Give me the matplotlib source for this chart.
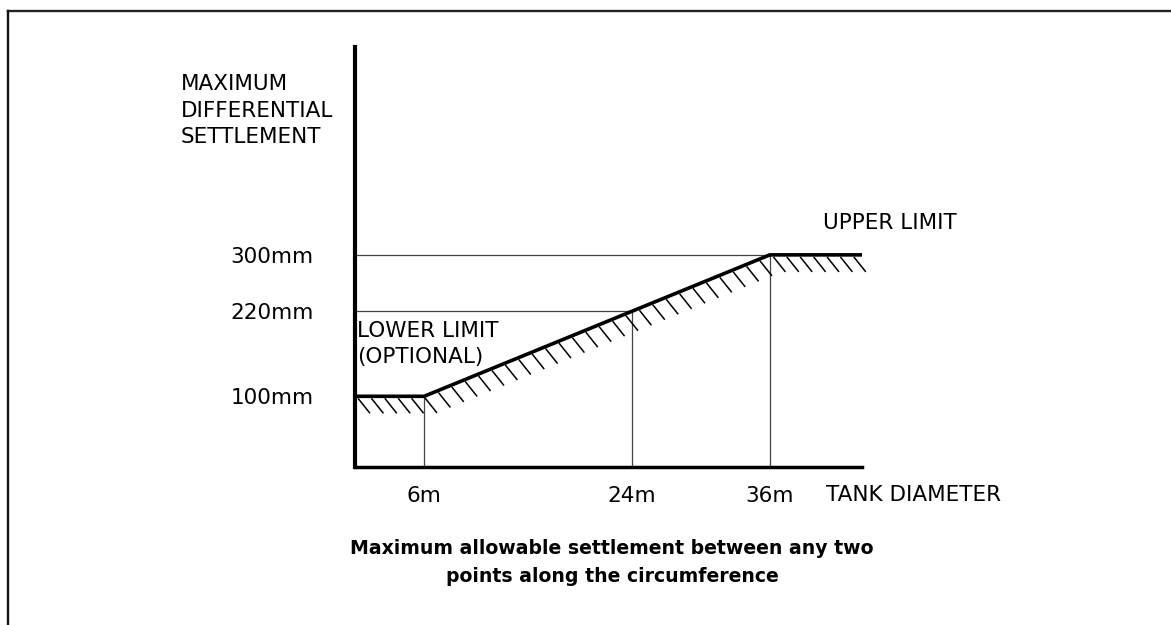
import numpy as np
import matplotlib
matplotlib.use('Agg')
import matplotlib.pyplot as plt
from matplotlib.collections import LineCollection
from matplotlib.lines import Line2D
from matplotlib.transforms import IdentityTransform


############## Data of the settlement limit curve. ##############
# Tank diameter (m) and maximum differential settlement (mm).
diameter = [0, 6, 24, 36, 44]
settlement = [100, 100, 220, 300, 300]

# Marked points of the curve.
tick_diameter = [6, 24, 36]
tick_diameter_labels = ['6m', '24m', '36m']
tick_settlement = [100, 220, 300]
tick_settlement_labels = ['100mm', '220mm', '300mm']
guide_diameter = [6, 24, 36]
guide_settlement_top = [100, 220, 300]
guide_settlement = [220, 300]
guide_diameter_end = [24, 36]

FS = 15.5
plt.rcParams['font.family'] = 'DejaVu Sans'

fig = plt.figure(figsize=(11.71, 6.25), dpi=100)
W, H = 1171.0, 625.0
ax = fig.add_axes([355/W, 1 - 467/H, 507/W, 420/H])
ax.set_xlim(0, 44)
ax.set_ylim(0, 594)

# Axes: only the left and bottom lines.
for s in ['top', 'right']:
  ax.spines[s].set_visible(False)
ax.spines['left'].set_linewidth(3)
ax.spines['bottom'].set_linewidth(2.5)

ax.set_xticks(tick_diameter)
ax.set_xticklabels(tick_diameter_labels, fontsize=FS)
ax.set_yticks(tick_settlement)
ax.set_yticklabels(tick_settlement_labels, fontsize=FS)
ax.tick_params(axis='x', length=0, pad=14)
ax.tick_params(axis='y', length=0, pad=30)

# Thin guide lines.
ax.vlines(guide_diameter, 0, guide_settlement_top, colors='#444444', linewidth=0.9)
ax.hlines(guide_settlement, 0, guide_diameter_end, colors='#444444', linewidth=0.9)

# Limit curve.
ax.plot(diameter, settlement, color='k', linewidth=2.6, solid_capstyle='butt',
    solid_joinstyle='miter', clip_on=False)

# Hatching below the curve (done in pixels).
pts = ax.transData.transform(np.column_stack([diameter, settlement]))
hx = np.arange(pts[0, 0] + 3, pts[-1, 0] - 3, 13.4)
hy = np.interp(hx, pts[:, 0], pts[:, 1])
segs = [[(x, y - 2), (x + 12, y - 17)] for x, y in zip(hx, hy)]
lc = LineCollection(segs, colors='k', linewidths=1.1, transform=IdentityTransform())
lc.set_clip_on(False)
ax.add_collection(lc)

# Annotations.
ax.text(0.2, 207, 'LOWER LIMIT\n(OPTIONAL)', fontsize=FS, ha='left', va='top',
    linespacing=1.42)
ax.text(40.6, 345, 'UPPER LIMIT', fontsize=FS, ha='left', va='center')
ax.text(40.9, -40, 'TANK DIAMETER', fontsize=FS, ha='left', va='center', clip_on=False)

fig.text(181/W, 1 - 74/H, 'MAXIMUM\nDIFFERENTIAL\nSETTLEMENT', fontsize=FS,
    ha='left', va='top', linespacing=1.42)
fig.text(612/W, 1 - 539/H, 'Maximum allowable settlement between any two\n'
    'points along the circumference', fontsize=13.6, fontweight='bold',
    ha='center', va='top', linespacing=1.58)

# Frame lines at top and left.
fig.add_artist(Line2D([8/W, 1], [1 - 11/H, 1 - 11/H], color='#222222', linewidth=1.7))
fig.add_artist(Line2D([8/W, 8/W], [1 - 11/H, 0], color='#111111', linewidth=1.7))

fig.savefig('out.png', dpi=100)
